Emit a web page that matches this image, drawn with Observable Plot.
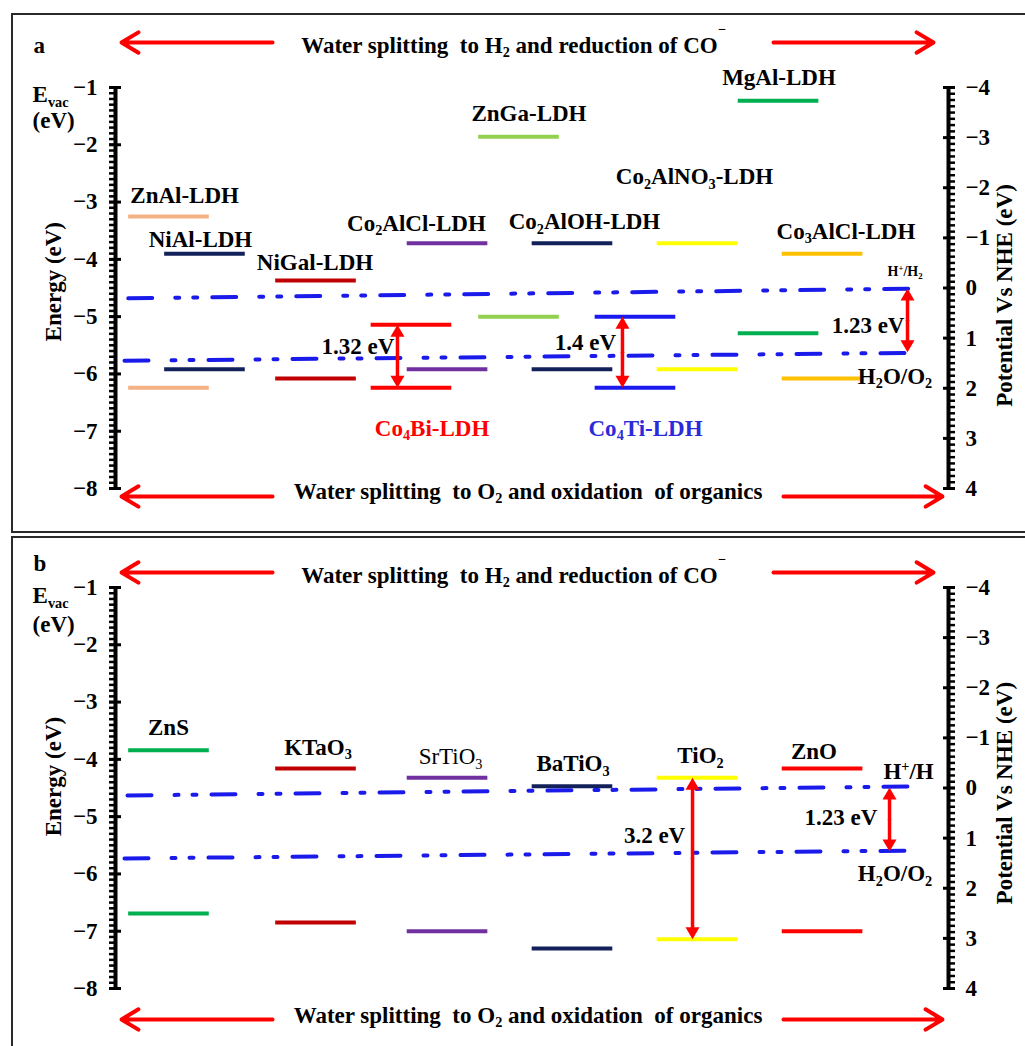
<!DOCTYPE html>
<html><head><meta charset="utf-8">
<script src="https://cdn.jsdelivr.net/npm/d3@7"></script>
<script src="https://cdn.jsdelivr.net/npm/@observablehq/plot@0.6"></script>
<style>
body{margin:0;background:#fff;}
#wrap{position:relative;width:1025px;height:1046px;overflow:hidden;background:#fff;}
.panel{position:absolute;left:0;}
.box{position:absolute;border:2px solid #2a2a2a;pointer-events:none;}
#wrap svg text{font-family:"Liberation Serif","Times New Roman",serif;white-space:pre;}
</style></head><body>
<div id="wrap"></div>
<script>
// ---------------- DATA ----------------
const leftTicks = [-1, -2, -3, -4, -5, -6, -7, -8];
const leftTickLabels = ["−1", "−2", "−3", "−4", "−5", "−6", "−7", "−8"];
const nheTicks = [-4, -3, -2, -1, 0, 1, 2, 3, 4];
const nheTickLabels = ["−4", "−3", "−2", "−1", "0", "1", "2", "3", "4"];

// Panel a: LDH band edges (eV vs vacuum)
const aNames = ["ZnAl-LDH", "NiAl-LDH", "NiGal-LDH", "Co4Bi-LDH", "Co2AlCl-LDH", "ZnGa-LDH", "Co2AlOH-LDH", "Co4Ti-LDH", "Co2AlNO3-LDH", "MgAl-LDH", "Co3AlCl-LDH"];
const aCB = [-3.25, -3.90, -4.37, -5.14, -3.72, -1.86, -3.72, -5.00, -3.72, -1.23, -3.90];
const aVB = [-6.24, -5.92, -6.08, -6.24, -5.92, -5.00, -5.92, -6.24, -5.92, -5.29, -6.08];
// Panel b: semiconductor band edges
const bNames = ["ZnS", "KTaO3", "SrTiO3", "BaTiO3", "TiO2", "ZnO"];
const bCB = [-3.84, -4.16, -4.32, -4.47, -4.32, -4.16];
const bVB = [-6.69, -6.85, -7.00, -7.30, -7.14, -7.00];

// Redox levels (drawn slightly sloped as in the figure): [left, right] energies
const aHplus = [-4.68, -4.51];
const aH2O = [-5.77, -5.63];
const bHplus = [-4.63, -4.47];
const bH2O = [-5.73, -5.59];

// gap arrows: [top, bottom]
const aGaps = [[-5.14, -6.24], [-5.00, -6.24], [-4.51, -5.62]];
const bGaps = [[-4.32, -7.14], [-4.49, -5.61]];

// Text
const aLabelTexts = ["ZnAl-LDH", "NiAl-LDH", "NiGal-LDH", "Co_{2}AlCl-LDH", "ZnGa-LDH", "Co_{2}AlOH-LDH", "Co_{2}AlNO_{3}-LDH", "MgAl-LDH", "Co_{3}AlCl-LDH", "Co_{4}Bi-LDH", "Co_{4}Ti-LDH", "1.32 eV", "1.4 eV", "1.23 eV", "H_{2}O/O_{2}"];
const aSmallTexts = ["H^{+}/H_{2}"];
const bLabelTexts = ["ZnS", "KTaO_{3}", "BaTiO_{3}", "TiO_{2}", "ZnO", "H^{+}/H", "3.2 eV", "1.23 eV", "H_{2}O/O_{2}"];
const bRegularTexts = ["SrTiO_{3}"];
const topTitle = "Water splitting  to H_{2} and reduction of CO~{−}";
const bottomTitle = "Water splitting  to O_{2} and oxidation  of organics";
const yLeftTitle = "Energy (eV)";
const yRightTitle = "Potential Vs NHE (eV)";

// ---------------- LAYOUT (positions in x units 0..10 between the two axes) ----------------
const aBarX = [0.642, 1.074, 2.407, 3.553, 3.986, 4.844, 5.486, 6.242, 6.987, 7.960, 8.488];
const bBarX = [0.642, 2.407, 3.986, 5.486, 6.987, 8.488];
const redoxX = {a: [[0.153, 9.724], [0.108, 9.724]], b: [[0.144, 9.724], [0.108, 9.724]]};
const aGapX = [3.385, 6.086, 9.508];
const bGapX = [6.927, 9.292];
const aLabelPos = [[0.83, -2.88], [1.02, -3.65], [2.395, -4.05], [3.613, -3.37], [4.964, -1.46], [5.630, -3.35], [6.951, -2.56], [7.965, -0.82], [8.769, -3.51], [3.80, -6.95], [6.363, -6.95], [2.911, -5.53], [5.642, -5.46], [9.034, -5.16], [9.358, -6.04]];
const aSmallPos = [[9.478, -4.21]];
const bLabelPos = [[0.636, -3.45], [2.431, -3.79], [5.492, -4.08], [7.023, -3.94], [8.385, -3.87], [9.52, -4.22], [6.471, -5.34], [8.709, -5.01], [9.358, -6.00]];
const bRegularPos = [[4.022, -3.96]];

// ---------------- STYLE ----------------
const colorOf = {
  "ZnAl-LDH": "#F4B183", "NiAl-LDH": "#13215A", "NiGal-LDH": "#C00000", "Co4Bi-LDH": "#FF0000",
  "Co2AlCl-LDH": "#7030A0", "ZnGa-LDH": "#92D050", "Co2AlOH-LDH": "#13215A", "Co4Ti-LDH": "#1A1AF0",
  "Co2AlNO3-LDH": "#FFFF00", "MgAl-LDH": "#00B050", "Co3AlCl-LDH": "#FFC000",
  "ZnS": "#00B050", "KTaO3": "#C00000", "SrTiO3": "#7030A0", "BaTiO3": "#13215A", "TiO2": "#FFFF00", "ZnO": "#FF0000"
};
const textColorOf = {"Co_{4}Bi-LDH": "#FF0000", "Co_{4}Ti-LDH": "#2B2BD9"};
const BLUE = "#1A1AEA", RED = "#FF0000";
const HALF = 0.484;
const DASH = "24,23,4,14,4,15";
const FONT = "'Liberation Serif','Times New Roman',serif";
const FS = 23;

const toE = v => -1 + (v - nheTicks[0]) * (-7) / (nheTicks[nheTicks.length - 1] - nheTicks[0]);
const nheE = nheTicks.map(toE);

const triUp = {draw(c) { c.moveTo(0, 0); c.lineTo(-7, 12); c.lineTo(7, 12); c.closePath(); }};
const triDown = {draw(c) { c.moveTo(0, 0); c.lineTo(-7, -12); c.lineTo(7, -12); c.closePath(); }};

function panel(cfg) {
  const bars = cfg.names.map((n, i) => ({name: n, x: cfg.barX[i], cb: cfg.cb[i], vb: cfg.vb[i], color: colorOf[n]}));
  const lines = [cfg.hplus, cfg.h2o].map((lv, k) => [{x: cfg.redoxX[k][0], y: lv[0]}, {x: cfg.redoxX[k][1], y: lv[1]}]);
  const gaps = cfg.gaps.map((g, i) => ({x: cfg.gapX[i], top: g[0], bottom: g[1], mid: (g[0] + g[1]) / 2}));
  const lab = (texts, pos) => texts.map((t, i) => ({text: t, x: pos[i][0], y: pos[i][1], fill: textColorOf[t] || "#000"}));
  const minorL = d3.range(-8, -0.999, 0.1);
  const minorR = d3.range(nheTicks[0], nheTicks[nheTicks.length - 1] + 0.001, 0.125).map(toE);
  const fixed = cfg.fixed;
  const marks = [
    Plot.ruleY(bars, {y: "cb", x1: d => d.x - HALF, x2: d => d.x + HALF, stroke: "color", strokeWidth: 4}),
    Plot.ruleY(bars, {y: "vb", x1: d => d.x - HALF, x2: d => d.x + HALF, stroke: "color", strokeWidth: 4}),
    ...lines.map(l => Plot.line(l, {x: "x", y: "y", stroke: BLUE, strokeWidth: 4, strokeDasharray: DASH})),
    Plot.ruleX([0, 10], {stroke: "#000", strokeWidth: 4}),
    Plot.axisY({anchor: "left", ticks: minorL, tickSize: 6, strokeWidth: 2.5, fill: "none", label: null}),
    Plot.axisY({anchor: "left", ticks: leftTicks, tickSize: 12, dx: 6, strokeWidth: 3, fill: "none", label: null}),
    Plot.axisY({anchor: "left", ticks: leftTicks, tickSize: 0, tickPadding: 18, tickFormat: d => leftTickLabels[leftTicks.indexOf(d)], label: null, fontSize: FS}),
    Plot.axisY({anchor: "right", ticks: minorR, tickSize: 6, strokeWidth: 2.5, fill: "none", label: null}),
    Plot.axisY({anchor: "right", ticks: nheE, tickSize: 12, dx: -6, strokeWidth: 3, fill: "none", label: null}),
    Plot.axisY({anchor: "right", ticks: nheE, tickSize: 0, tickPadding: 17, tickFormat: d => nheTickLabels[nheE.indexOf(d)], label: null, fontSize: FS}),
    Plot.arrow(gaps, {x1: "x", x2: "x", y1: "mid", y2: "top", stroke: RED, strokeWidth: 3.5, headLength: 0, insetEnd: 6}),
    Plot.arrow(gaps, {x1: "x", x2: "x", y1: "mid", y2: "bottom", stroke: RED, strokeWidth: 3.5, headLength: 0, insetEnd: 6}),
    Plot.dot(gaps, {x: "x", y: "top", symbol: triUp, fill: RED, stroke: "none"}),
    Plot.dot(gaps, {x: "x", y: "bottom", symbol: triDown, fill: RED, stroke: "none"}),
    Plot.arrow(fixed.arrows, {x1: "x1", x2: "x2", y1: "y", y2: "y", stroke: RED, strokeWidth: 4, headLength: 7.4, headAngle: 62}),
    Plot.text(lab(cfg.labelTexts, cfg.labelPos), {x: "x", y: "y", text: "text", fill: "fill", fontSize: FS, fontWeight: "bold"}),
    Plot.text(lab(cfg.smallTexts, cfg.smallPos), {x: "x", y: "y", text: "text", fill: "fill", fontSize: 14, fontWeight: "bold"}),
    Plot.text(lab(cfg.regularTexts, cfg.regularPos), {x: "x", y: "y", text: "text", fill: "fill", fontSize: FS, fontWeight: "normal"}),
    Plot.text(fixed.start, {x: "x", y: "y", text: "text", textAnchor: "start", fontSize: FS, fontWeight: "bold"}),
    Plot.text(fixed.titles, {x: "x", y: "y", text: "text", fontSize: FS, fontWeight: "bold"}),
    Plot.text(fixed.rot, {x: "x", y: "y", text: "text", rotate: -90, fontSize: FS, fontWeight: "bold"})
  ];
  return Plot.plot({
    width: 1025, height: cfg.height,
    marginLeft: 115, marginRight: 77, marginTop: cfg.mt, marginBottom: cfg.mb,
    x: {domain: [0, 10], axis: null},
    y: {domain: [-8, -1], axis: null},
    style: {fontFamily: FONT, fontSize: FS + "px", fontWeight: "bold", color: "#000", background: "transparent", overflow: "visible"},
    marks
  });
}

function rich(svg) {
  svg.querySelectorAll("text").forEach(t => {
    const s = t.textContent;
    if (!/[_^~]\{/.test(s)) return;
    const base = parseFloat(getComputedStyle(t).fontSize) || FS;
    t.textContent = "";
    const re = /([_^~])\{([^}]*)\}/g;
    let last = 0, m, shift = 0;
    const add = (str, target, size) => {
      if (!str) return;
      const ts = document.createElementNS("http://www.w3.org/2000/svg", "tspan");
      const dy = target - shift;
      if (dy) ts.setAttribute("dy", dy.toFixed(2));
      if (size) ts.setAttribute("font-size", size.toFixed(2));
      ts.textContent = str;
      t.appendChild(ts);
      shift = target;
    };
    while ((m = re.exec(s))) {
      add(s.slice(last, m.index), 0, null);
      const k = m[1];
      const target = k === "_" ? 0.2 * base : k === "^" ? -0.38 * base : -0.8 * base;
      add(m[2], target, 0.62 * base);
      last = re.lastIndex;
    }
    add(s.slice(last), 0, null);
  });
}

const wrap = document.getElementById("wrap");
function mount(svg, top) {
  const d = document.createElement("div");
  d.className = "panel"; d.style.top = top + "px";
  d.appendChild(svg); wrap.appendChild(d); rich(svg);
}

const svgA = panel({
  height: 534, mt: 87, mb: 46,
  names: aNames, cb: aCB, vb: aVB, barX: aBarX,
  hplus: aHplus, h2o: aH2O, redoxX: redoxX.a,
  gaps: aGaps, gapX: aGapX,
  labelTexts: aLabelTexts, labelPos: aLabelPos,
  smallTexts: aSmallTexts, smallPos: aSmallPos,
  regularTexts: [], regularPos: [],
  fixed: {
    arrows: [{x1: 1.885, x2: 0.072, y: -0.215}, {x1: 7.899, x2: 9.820, y: -0.215}, {x1: 1.885, x2: 0.072, y: -8.139}, {x1: 8.019, x2: 9.928, y: -8.139}],
    start: [{text: "a", x: -0.984, y: -0.267}, {text: "E_{vac}", x: -0.996, y: -1.13}, {text: "(eV)", x: -0.996, y: -1.58}],
    titles: [{text: topTitle, x: 4.778, y: -0.267}, {text: bottomTitle, x: 4.952, y: -8.052}],
    rot: [{text: yLeftTitle, x: -0.745, y: -4.39}, {text: yRightTitle, x: 10.672, y: -4.63}]
  }
});
mount(svgA, 0);

const svgB = panel({
  height: 512, mt: 53, mb: 58,
  names: bNames, cb: bCB, vb: bVB, barX: bBarX,
  hplus: bHplus, h2o: bH2O, redoxX: redoxX.b,
  gaps: bGaps, gapX: bGapX,
  labelTexts: bLabelTexts, labelPos: bLabelPos,
  smallTexts: [], smallPos: [],
  regularTexts: bRegularTexts, regularPos: bRegularPos,
  fixed: {
    arrows: [{x1: 1.885, x2: 0.072, y: -0.738}, {x1: 7.899, x2: 9.820, y: -0.738}, {x1: 1.885, x2: 0.072, y: -8.541}, {x1: 8.019, x2: 9.928, y: -8.541}],
    start: [{text: "b", x: -0.984, y: -0.581}, {text: "E_{vac}", x: -0.996, y: -1.15}, {text: "(eV)", x: -0.996, y: -1.64}],
    titles: [{text: topTitle, x: 4.778, y: -0.791}, {text: bottomTitle, x: 4.952, y: -8.471}],
    rot: [{text: yLeftTitle, x: -0.745, y: -4.30}, {text: yRightTitle, x: 10.672, y: -4.59}]
  }
});
mount(svgB, 534);

const boxA = document.createElement("div");
boxA.className = "box"; Object.assign(boxA.style, {left: "11px", top: "13px", width: "1100px", height: "516px"});
const boxB = document.createElement("div");
boxB.className = "box"; Object.assign(boxB.style, {left: "11px", top: "536px", width: "1100px", height: "600px"});
wrap.appendChild(boxA); wrap.appendChild(boxB);
</script>
</body></html>
